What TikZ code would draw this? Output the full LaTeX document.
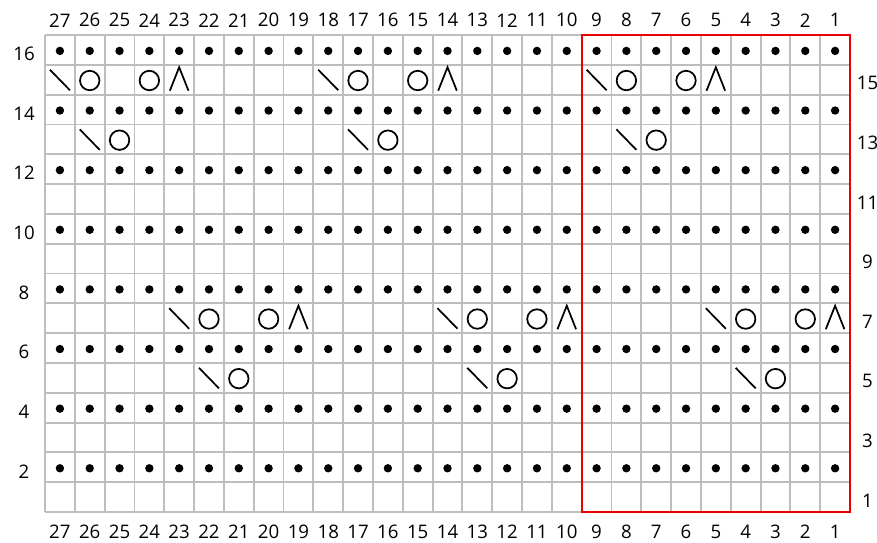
\documentclass[tikz,border=0pt]{standalone}
\usepackage{fontspec}
\setmainfont{Open Sans}
\definecolor{gridgray}{RGB}{190,190,190}
\definecolor{boxred}{RGB}{235,0,0}
\begin{document}
\begin{tikzpicture}[x=0.75pt,y=-0.75pt,
  gridline/.style={draw=gridgray,line width=1.4pt},
  redbox/.style={draw=boxred,line width=1.5pt},
  sym/.style={draw=black,line width=1.3pt},
  purl/.style={fill=black},
  numlabel/.style={inner sep=0pt,font=\fontsize{14pt}{16pt}\selectfont}]
\useasboundingbox (0,0) rectangle (877,542);
\fill[white] (0,0) rectangle (877,542);
% cell centres
\foreach \c in {1,...,27}{
  \foreach \r in {1,...,16}{
    \coordinate (c\c-\r) at ({59.907+(27-\c)*29.8148},{49.906+(16-\r)*29.8125});
  }
}
% grid
\foreach \i in {0,...,27}{
  \draw[gridline] ({45+\i*29.8148},35) -- ({45+\i*29.8148},512);
}
\foreach \j in {0,...,16}{
  \draw[gridline] (45,{35+\j*29.8125}) -- (850,{35+\j*29.8125});
}
% red repeat box (columns 9..1)
\draw[redbox] ({45+18*29.8148},35) rectangle (850,512);
% purl dots on even rows
\foreach \c in {1,...,27}{
  \foreach \r in {2,4,...,16}{
    \fill[purl] ([yshift=-0.75pt]c\c-\r) circle (3.15pt);
  }
}
% yarn overs
\foreach \p in {26-15,24-15,17-15,15-15,8-15,6-15,
                25-13,16-13,7-13,
                22-7,20-7,13-7,11-7,4-7,2-7,
                21-5,12-5,3-5}{
  \draw[sym] ([yshift=-0.6pt]c\p) circle (7.3pt);
}
% decreases (diagonal)
\foreach \p in {27-15,18-15,9-15,26-13,17-13,8-13,23-7,14-7,5-7,22-5,13-5,4-5}{
  \draw[sym] ([shift={(-10,-10)}]c\p) -- ([shift={(10,10.5)}]c\p);
}
% central double decreases
\foreach \p in {23-15,14-15,5-15,19-7,10-7,1-7}{
  \draw[sym] ([shift={(-9.3,11)}]c\p) -- ([shift={(0,-12.5)}]c\p) -- ([shift={(9.3,11)}]c\p);
}
% column labels
\foreach \c in {1,...,27}{
  \node[numlabel] (top\c) at ({59.907+(27-\c)*29.8148},20.3) {\c};
  \node[numlabel] (bot\c) at ({59.907+(27-\c)*29.8148},531.5) {\c};
}
% row labels
\foreach \r in {2,4,...,16}{
  \node[numlabel] (left\r) at (24,{53.9+(16-\r)*29.8125}) {\r};
}
\foreach \r in {1,3,...,15}{
  \node[numlabel] (right\r) at (867.5,{53.4+(16-\r)*29.8125}) {\r};
}
\end{tikzpicture}
\end{document}
